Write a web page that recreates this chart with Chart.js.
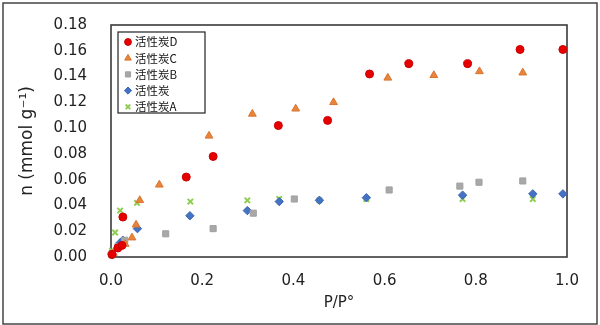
<!DOCTYPE html>
<html>
<head>
<meta charset="utf-8">
<script src="https://cdn.jsdelivr.net/npm/chart.js@4/dist/chart.umd.min.js"></script>
<style>
  html, body { margin: 0; padding: 0; background: #fff; }
  #wrap { width: 600px; height: 325px; }
</style>
</head>
<body>
<div id="wrap"><canvas id="chart" width="600" height="325"></canvas></div>
<script>
// isotherm data, P/P° vs n (mmol g-1)
const labels = ["活性炭D", "活性炭C", "活性炭B", "活性炭", "活性炭A"];

const dX = [0.002, 0.015, 0.024, 0.026, 0.165, 0.224, 0.367, 0.475, 0.567, 0.653, 0.782, 0.897, 0.991];
const dY = [0.002, 0.007, 0.009, 0.031, 0.062, 0.078, 0.102, 0.106, 0.142, 0.150, 0.150, 0.161, 0.161];

const cX = [0.005, 0.031, 0.046, 0.055, 0.063, 0.106, 0.215, 0.310, 0.405, 0.488, 0.607, 0.708, 0.808, 0.903];
const cY = [0.003, 0.010, 0.015, 0.025, 0.044, 0.056, 0.094, 0.111, 0.115, 0.120, 0.139, 0.141, 0.144, 0.143];

const bX = [0.003, 0.015, 0.030, 0.120, 0.224, 0.312, 0.402, 0.610, 0.765, 0.807, 0.903];
const bY = [0.003, 0.008, 0.013, 0.018, 0.022, 0.034, 0.045, 0.052, 0.055, 0.058, 0.059];

const plainX = [0.003, 0.020, 0.026, 0.058, 0.173, 0.299, 0.369, 0.457, 0.560, 0.771, 0.925, 0.991];
const plainY = [0.002, 0.011, 0.013, 0.022, 0.032, 0.036, 0.043, 0.044, 0.046, 0.048, 0.049, 0.049];

const aX = [0.002, 0.002, 0.009, 0.020, 0.057, 0.174, 0.299, 0.369, 0.457, 0.560, 0.771, 0.925];
const aY = [0.001, 0.005, 0.019, 0.036, 0.042, 0.043, 0.044, 0.045, 0.044, 0.045, 0.045, 0.045];

const yTicks = [0, 0.02, 0.04, 0.06, 0.08, 0.10, 0.12, 0.14, 0.16, 0.18];
const xTicks = [0, 0.2, 0.4, 0.6, 0.8, 1.0];

function pts(xs, ys) {
  return xs.map((x, i) => ({ x: x, y: ys[i] }));
}

const styles = [
  { pointStyle: "circle", radius: 4, bg: "#e60000", border: "#c80000", bw: 1 },
  { pointStyle: "triangle", radius: 4.5, bg: "#e8843c", border: "#d9752f", bw: 1 },
  { pointStyle: "rect", radius: 4.3, bg: "#a8a8a8", border: "#a0a0a0", bw: 1 },
  { pointStyle: "rectRot", radius: 4.2, bg: "#4472c4", border: "#3d66b0", bw: 1 },
  { pointStyle: "crossRot", radius: 3.8, bg: "#92d050", border: "#8fce52", bw: 2 }
];
const series = [pts(dX, dY), pts(cX, cY), pts(bX, bY), pts(plainX, plainY), pts(aX, aY)];

const datasets = series.map((data, i) => ({
  label: labels[i],
  data: data,
  pointStyle: styles[i].pointStyle,
  pointRadius: styles[i].radius,
  pointHoverRadius: styles[i].radius,
  backgroundColor: styles[i].bg,
  borderColor: styles[i].border,
  pointBorderWidth: styles[i].bw,
  clip: false
}));

// frame, plot border and boxed legend
const frame = {
  id: "frame",
  beforeDatasetsDraw(chart) {
    const { ctx, chartArea: a } = chart;
    ctx.save();
    ctx.strokeStyle = "#3a3a3a";
    ctx.lineWidth = 1.6;
    ctx.strokeRect(a.left, a.top, a.right - a.left, a.bottom - a.top);
    ctx.restore();
  },
  afterDraw(chart) {
    const { ctx, chartArea: a } = chart;
    ctx.save();
    ctx.strokeStyle = "#444";
    ctx.lineWidth = 1.5;
    ctx.strokeRect(3, 3, chart.width - 6, chart.height - 4);

    const bx = a.left + 7, by = a.top + 7, bw = 87, bh = 81;
    ctx.fillStyle = "#fff";
    ctx.fillRect(bx, by, bw, bh);
    ctx.strokeStyle = "#222";
    ctx.lineWidth = 1.2;
    ctx.strokeRect(bx, by, bw, bh);

    ctx.font = "11.5px 'Noto Sans CJK SC', sans-serif";
    ctx.textBaseline = "middle";
    labels.forEach((t, i) => {
      const y = by + 10 + i * 16.2;
      const s = styles[i];
      ctx.fillStyle = s.bg;
      ctx.strokeStyle = s.border;
      ctx.lineWidth = s.bw;
      Chart.helpers.drawPoint(ctx, { pointStyle: s.pointStyle, radius: s.radius * 0.85, borderWidth: s.bw, rotation: 0 }, bx + 10, y);
      ctx.fillStyle = "#111";
      ctx.fillText(t, bx + 17, y);
    });
    ctx.restore();
  }
};

new Chart(document.getElementById("chart"), {
  type: "scatter",
  data: { datasets: datasets },
  options: {
    responsive: false,
    animation: false,
    layout: { padding: { left: 0, right: 33, top: 16, bottom: 0 } },
    plugins: { legend: { display: false }, tooltip: { enabled: false } },
    scales: {
      x: {
        type: "linear",
        min: 0,
        max: 1,
        afterBuildTicks: s => { s.ticks = xTicks.map(v => ({ value: v })); },
        afterFit: s => { s.height = 68; },
        grid: { display: false },
        border: { display: false },
        ticks: {
          padding: 7,
          color: "#222",
          font: { family: "DejaVu Sans", size: 15 },
          callback: v => Number(v).toFixed(1)
        },
        title: {
          display: true,
          text: "P/P°",
          color: "#222",
          font: { family: "DejaVu Sans", size: 15 },
          padding: { top: 0, bottom: 13 }
        }
      },
      y: {
        type: "linear",
        min: 0,
        max: 0.18,
        afterBuildTicks: s => { s.ticks = yTicks.map(v => ({ value: v })); },
        afterFit: s => { s.width = 111; },
        grid: { display: false },
        border: { display: false },
        ticks: {
          padding: 16,
          color: "#222",
          font: { family: "DejaVu Sans", size: 15 },
          callback: v => Number(v).toFixed(2)
        },
        title: {
          display: true,
          text: "n (mmol g⁻¹)",
          color: "#222",
          font: { family: "DejaVu Sans", size: 17 },
          padding: { top: 17, bottom: 0 }
        }
      }
    }
  },
  plugins: [frame]
});
</script>
</body>
</html>
